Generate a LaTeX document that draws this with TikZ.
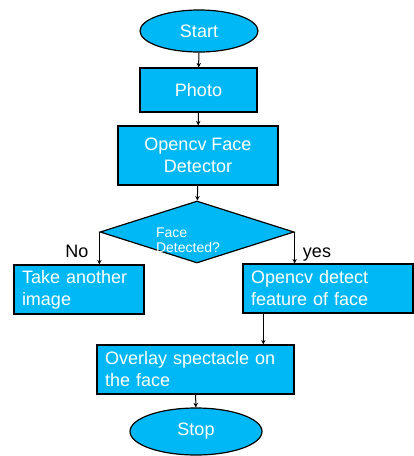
\documentclass[tikz,border=0pt]{standalone}
\usepackage{fontspec}
\setmainfont{Liberation Sans}
\usetikzlibrary{shapes.geometric,arrows.meta}
\definecolor{boxblue}{HTML}{00B8F5}
\tikzset{
  base/.style={draw=black, line width=1.2pt, fill=boxblue, text=white, inner sep=0pt,
    font=\fontsize{18}{22}\selectfont},
  term/.style={base, ellipse},
  proc/.style={base, rectangle},
  procL/.style={base, rectangle, align=left, inner xsep=8pt},
  decision/.style={base, diamond},
  lbl/.style={text=black, font=\fontsize{18}{22}\selectfont, inner sep=0pt, anchor=base},
  arr/.style={line width=1pt, -{Stealth[length=4.5pt,width=4.5pt]}},
}
\begin{document}
\begin{tikzpicture}[x=1pt,y=-1pt]
\useasboundingbox (0,0) rectangle (414,456);
\node[term, minimum width=118pt, minimum height=42pt] (start) at (199,31) {Start};
\node[proc, minimum width=117pt, minimum height=44pt] (photo) at (198.5,90) {Photo};
\node[proc, minimum width=160pt, minimum height=59pt, align=center] (det) at (198,155.5) {Opencv Face\\Detector};
\node[decision, minimum width=194pt, minimum height=62pt] (dia) at (197,232) {};
\node[text=white, align=left, inner sep=0pt, font=\fontsize{14}{15.5}\selectfont] (facetxt) at (188,240) {Face\\Detected?};
\node[procL, minimum width=130pt, minimum height=49pt, text width=114pt] (take) at (79,289.5) {Take another\\image};
\node[procL, minimum width=170pt, minimum height=49pt, text width=154pt] (feat) at (328,288.5) {Opencv detect\\feature of face};
\node[procL, minimum width=197pt, minimum height=49pt, text width=181pt] (over) at (195.5,369.5) {Overlay spectacle on\\the face};
\node[term, minimum width=132pt, minimum height=47pt] (stop) at (196,431.5) {Stop};
\node[lbl] (no) at (77,257) {No};
\node[lbl] (yes) at (317,257) {yes};
\draw[arr] (start) -- (photo);
\draw[arr] (photo) -- (det);
\draw[arr] (det) -- (dia);
\draw[arr] (dia.west) -- (dia.west |- take.north);
\draw[arr] (dia.east) -- (dia.east |- feat.north);
\coordinate (fs) at ([xshift=21pt]feat.south west);
\draw[arr] (fs) -- (fs |- over.north);
\draw[arr] (over) -- (stop);
\end{tikzpicture}
\end{document}
